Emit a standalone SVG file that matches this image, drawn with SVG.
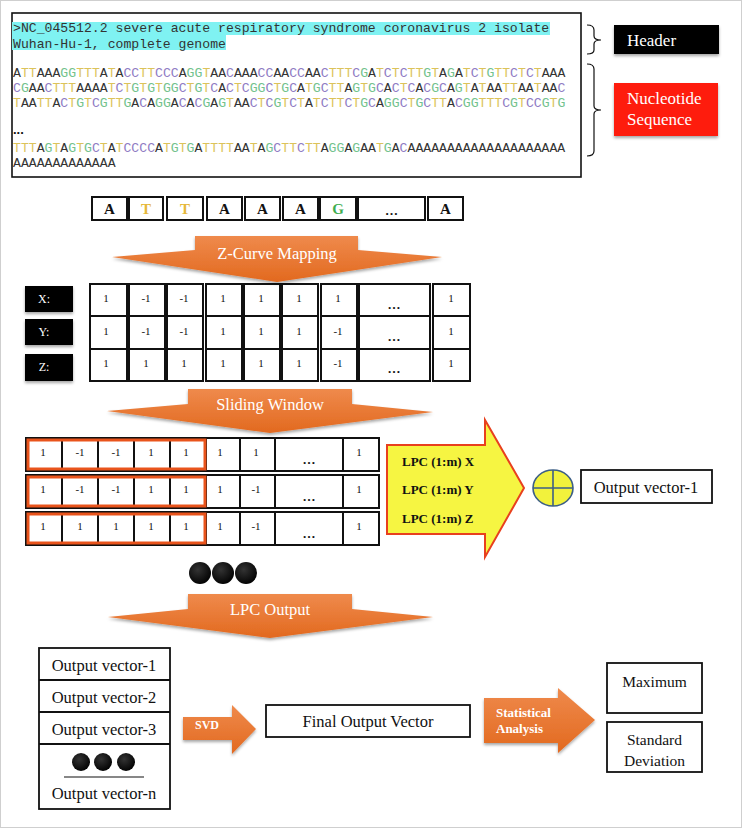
<svg xmlns="http://www.w3.org/2000/svg" width="742" height="828" viewBox="0 0 742 828">
<defs>
<style>
.mono{font-family:"Liberation Mono","DejaVu Sans Mono",monospace;font-size:13.15px;fill:#333}
.t{fill:#dcc35a}.c{fill:#8f7cc4}.g{fill:#72c28c}
.serif{font-family:"Liberation Serif","Times New Roman",serif}
.cell{fill:#fff;stroke:#111;stroke-width:2}
.num{font-family:"Liberation Serif",serif;font-size:11px;text-anchor:middle;fill:#111}
.ell{font-family:"Liberation Serif",serif;font-size:13px;font-weight:bold;text-anchor:middle;fill:#111}
.wt{fill:#fff;font-family:"Liberation Serif",serif;font-size:16.5px;text-anchor:middle}
.orange{fill:url(#og);filter:url(#sh)}
.box{fill:#fff;stroke:#111;stroke-width:1.8}
.lbl{font-family:"Liberation Serif",serif;font-size:16.5px;text-anchor:middle;fill:#111}
.blk{fill:#000;filter:url(#sh)}
.nt{font-family:"Liberation Serif",serif;font-size:15px;font-weight:bold;text-anchor:middle}
.bw{font-family:"Liberation Serif",serif;font-weight:bold;fill:#fff;font-size:13px}
.lpc{font-family:"Liberation Serif",serif;font-weight:bold;fill:#111;font-size:13px}
.dot{fill:url(#dg)}
</style>
<linearGradient id="og" x1="0" y1="0" x2="0" y2="1">
<stop offset="0" stop-color="#ef8a4c"/>
<stop offset="1" stop-color="#e2691f"/>
</linearGradient>
<radialGradient id="dg" cx="0.4" cy="0.35" r="0.7">
<stop offset="0" stop-color="#333"/>
<stop offset="1" stop-color="#000"/>
</radialGradient>
<filter id="sh" x="-10%" y="-10%" width="130%" height="140%">
<feDropShadow dx="0" dy="2" stdDeviation="1.5" flood-color="#000" flood-opacity="0.35"/>
</filter>
</defs>
<rect x="0.5" y="0.5" width="741" height="827" fill="#fff" stroke="#cfcfcf"/>

<g id="fasta">
<rect x="12" y="13" width="569" height="164" fill="#fff" stroke="#111" stroke-width="1.6"/>
<rect x="12" y="22" width="538" height="13" fill="#7ff2f2"/>
<rect x="12" y="35" width="214" height="15" fill="#7ff2f2"/>
<text class="mono" x="13" y="32">&gt;NC_045512.2 severe acute respiratory syndrome coronavirus 2 isolate</text>
<text class="mono" x="13" y="48">Wuhan-Hu-1, complete genome</text>
<text class="mono" x="13" y="77">A<tspan class="t">TT</tspan>AAA<tspan class="g">GG</tspan><tspan class="t">TTT</tspan>A<tspan class="t">T</tspan>A<tspan class="c">CC</tspan><tspan class="t">TT</tspan><tspan class="c">CCC</tspan>A<tspan class="g">GG</tspan><tspan class="t">T</tspan>AA<tspan class="c">C</tspan>AAA<tspan class="c">CC</tspan>AA<tspan class="c">CC</tspan>AA<tspan class="c">C</tspan><tspan class="t">TTT</tspan><tspan class="c">C</tspan><tspan class="g">G</tspan>A<tspan class="t">T</tspan><tspan class="c">C</tspan><tspan class="t">T</tspan><tspan class="c">C</tspan><tspan class="t">TT</tspan><tspan class="g">G</tspan><tspan class="t">T</tspan>A<tspan class="g">G</tspan>A<tspan class="t">T</tspan><tspan class="c">C</tspan><tspan class="t">T</tspan><tspan class="g">G</tspan><tspan class="t">TT</tspan><tspan class="c">C</tspan><tspan class="t">T</tspan><tspan class="c">C</tspan><tspan class="t">T</tspan>AAA</text>
<text class="mono" x="13" y="92"><tspan class="c">C</tspan><tspan class="g">G</tspan>AA<tspan class="c">C</tspan><tspan class="t">TTT</tspan>AAAA<tspan class="t">T</tspan><tspan class="c">C</tspan><tspan class="t">T</tspan><tspan class="g">G</tspan><tspan class="t">T</tspan><tspan class="g">G</tspan><tspan class="t">T</tspan><tspan class="g">GG</tspan><tspan class="c">C</tspan><tspan class="t">T</tspan><tspan class="g">G</tspan><tspan class="t">T</tspan><tspan class="c">C</tspan>A<tspan class="c">C</tspan><tspan class="t">T</tspan><tspan class="c">C</tspan><tspan class="g">GG</tspan><tspan class="c">C</tspan><tspan class="t">T</tspan><tspan class="g">G</tspan><tspan class="c">C</tspan>A<tspan class="t">T</tspan><tspan class="g">G</tspan><tspan class="c">C</tspan><tspan class="t">TT</tspan>A<tspan class="g">G</tspan><tspan class="t">T</tspan><tspan class="g">G</tspan><tspan class="c">C</tspan>A<tspan class="c">C</tspan><tspan class="t">T</tspan><tspan class="c">C</tspan>A<tspan class="c">C</tspan><tspan class="g">G</tspan><tspan class="c">C</tspan>A<tspan class="g">G</tspan><tspan class="t">T</tspan>A<tspan class="t">T</tspan>AA<tspan class="t">TT</tspan>AA<tspan class="t">T</tspan>AA<tspan class="c">C</tspan></text>
<text class="mono" x="13" y="107"><tspan class="t">T</tspan>AA<tspan class="t">TT</tspan>A<tspan class="c">C</tspan><tspan class="t">T</tspan><tspan class="g">G</tspan><tspan class="t">T</tspan><tspan class="c">C</tspan><tspan class="g">G</tspan><tspan class="t">TT</tspan><tspan class="g">G</tspan>A<tspan class="c">C</tspan>A<tspan class="g">GG</tspan>A<tspan class="c">C</tspan>A<tspan class="c">C</tspan><tspan class="g">G</tspan>A<tspan class="g">G</tspan><tspan class="t">T</tspan>AA<tspan class="c">C</tspan><tspan class="t">T</tspan><tspan class="c">C</tspan><tspan class="g">G</tspan><tspan class="t">T</tspan><tspan class="c">C</tspan><tspan class="t">T</tspan>A<tspan class="t">T</tspan><tspan class="c">C</tspan><tspan class="t">TT</tspan><tspan class="c">C</tspan><tspan class="t">T</tspan><tspan class="g">G</tspan><tspan class="c">C</tspan>A<tspan class="g">GG</tspan><tspan class="c">C</tspan><tspan class="t">T</tspan><tspan class="g">G</tspan><tspan class="c">C</tspan><tspan class="t">TT</tspan>A<tspan class="c">C</tspan><tspan class="g">GG</tspan><tspan class="t">TTT</tspan><tspan class="c">C</tspan><tspan class="g">G</tspan><tspan class="t">T</tspan><tspan class="c">CC</tspan><tspan class="g">G</tspan><tspan class="t">T</tspan><tspan class="g">G</tspan></text>
<text x="13" y="134" style="font-family:'Liberation Sans',sans-serif;font-size:13px;font-weight:bold;fill:#111">...</text>
<text class="mono" x="13" y="152"><tspan class="t">TTT</tspan>A<tspan class="g">G</tspan><tspan class="t">T</tspan>A<tspan class="g">G</tspan><tspan class="t">T</tspan><tspan class="g">G</tspan><tspan class="c">C</tspan><tspan class="t">T</tspan>A<tspan class="t">T</tspan><tspan class="c">CCCC</tspan>A<tspan class="t">T</tspan><tspan class="g">G</tspan><tspan class="t">T</tspan><tspan class="g">G</tspan>A<tspan class="t">TTTT</tspan>AA<tspan class="t">T</tspan>A<tspan class="g">G</tspan><tspan class="c">C</tspan><tspan class="t">TT</tspan><tspan class="c">C</tspan><tspan class="t">TT</tspan>A<tspan class="g">GG</tspan>A<tspan class="g">G</tspan>AA<tspan class="t">T</tspan><tspan class="g">G</tspan>A<tspan class="c">C</tspan>AAAAAAAAAAAAAAAAAAAA</text>
<text class="mono" x="13" y="167">AAAAAAAAAAAAA</text>
</g>

<g id="header-label">
<path d="M587,25 Q594,25 594,30 L594,36 Q594,40 601,40 Q594,40 594,44 L594,50 Q594,54 587,54" fill="none" stroke="#111" stroke-width="1.2"/>
<rect x="614" y="25" width="105" height="29" class="blk"/>
<text x="627" y="46" class="serif" style="font-size:17px;fill:#fff">Header</text>
</g>

<g id="sequence-label">
<path d="M587,64 Q594,64 594,69 L594,106 Q594,110 601,110 Q594,110 594,114 L594,151 Q594,156 587,156" fill="none" stroke="#111" stroke-width="1.2"/>
<rect x="614" y="83" width="104" height="53" fill="#fe1c0c" filter="url(#sh)"/>
<text x="627" y="104" class="serif" style="font-size:17px;fill:#fff">Nucleotide</text>
<text x="627" y="125" class="serif" style="font-size:17px;fill:#fff">Sequence</text>
</g>

<g id="nucleotides">
<rect class="cell" x="92" y="197" width="35" height="23"/>
<rect class="cell" x="129" y="197" width="34" height="23"/>
<rect class="cell" x="167" y="197" width="36" height="23"/>
<rect class="cell" x="207" y="197" width="35" height="23"/>
<rect class="cell" x="245" y="197" width="35" height="23"/>
<rect class="cell" x="283" y="197" width="35" height="23"/>
<rect class="cell" x="320" y="197" width="36" height="23"/>
<rect class="cell" x="358" y="197" width="67" height="23"/>
<rect class="cell" x="428" y="197" width="35" height="23"/>
<text class="nt" x="109.5" y="214" fill="#111">A</text>
<text class="nt" x="146" y="214" fill="#e6b83a">T</text>
<text class="nt" x="185" y="214" fill="#e6b83a">T</text>
<text class="nt" x="224.5" y="214" fill="#111">A</text>
<text class="nt" x="262.5" y="214" fill="#111">A</text>
<text class="nt" x="300.5" y="214" fill="#111">A</text>
<text class="nt" x="338" y="214" fill="#3fae52">G</text>
<text class="ell" x="391.5" y="215">…</text>
<text class="nt" x="445.5" y="214" fill="#111">A</text>
</g>

<g id="zcurve-labels">
<rect x="25" y="286" width="48" height="26" class="blk"/>
<rect x="25" y="319" width="48" height="26" class="blk"/>
<rect x="25" y="354" width="48" height="27" class="blk"/>
<text x="44" y="303" class="serif" style="font-size:12px;fill:#fff;text-anchor:middle">X:</text>
<text x="44" y="336" class="serif" style="font-size:12px;fill:#fff;text-anchor:middle">Y:</text>
<text x="44" y="371" class="serif" style="font-size:12px;fill:#fff;text-anchor:middle">Z:</text>
</g>

<g id="zcurve-table">
<rect class="cell" x="90" y="284" width="37" height="32"/><rect class="cell" x="90" y="316" width="37" height="33"/><rect class="cell" x="90" y="349" width="37" height="32"/>
<rect class="cell" x="129" y="284" width="36" height="32"/><rect class="cell" x="129" y="316" width="36" height="33"/><rect class="cell" x="129" y="349" width="36" height="32"/>
<rect class="cell" x="167" y="284" width="36" height="32"/><rect class="cell" x="167" y="316" width="36" height="33"/><rect class="cell" x="167" y="349" width="36" height="32"/>
<rect class="cell" x="206" y="284" width="36" height="32"/><rect class="cell" x="206" y="316" width="36" height="33"/><rect class="cell" x="206" y="349" width="36" height="32"/>
<rect class="cell" x="244" y="284" width="36" height="32"/><rect class="cell" x="244" y="316" width="36" height="33"/><rect class="cell" x="244" y="349" width="36" height="32"/>
<rect class="cell" x="282" y="284" width="36" height="32"/><rect class="cell" x="282" y="316" width="36" height="33"/><rect class="cell" x="282" y="349" width="36" height="32"/>
<rect class="cell" x="321" y="284" width="36" height="32"/><rect class="cell" x="321" y="316" width="36" height="33"/><rect class="cell" x="321" y="349" width="36" height="32"/>
<rect class="cell" x="359" y="284" width="71" height="32"/><rect class="cell" x="359" y="316" width="71" height="33"/><rect class="cell" x="359" y="349" width="71" height="32"/>
<rect class="cell" x="433" y="284" width="37" height="32"/><rect class="cell" x="433" y="316" width="37" height="33"/><rect class="cell" x="433" y="349" width="37" height="32"/>
<text class="num" x="106" y="302">1</text><text class="num" x="146" y="302">-1</text><text class="num" x="184" y="302">-1</text><text class="num" x="223" y="302">1</text><text class="num" x="261" y="302">1</text><text class="num" x="299" y="302">1</text><text class="num" x="338" y="302">1</text><text class="ell" x="394" y="309">…</text><text class="num" x="451" y="302">1</text>
<text class="num" x="106" y="335">1</text><text class="num" x="146" y="335">-1</text><text class="num" x="184" y="335">-1</text><text class="num" x="223" y="335">1</text><text class="num" x="261" y="335">1</text><text class="num" x="299" y="335">1</text><text class="num" x="338" y="335">-1</text><text class="ell" x="394" y="341">…</text><text class="num" x="451" y="335">1</text>
<text class="num" x="106" y="367">1</text><text class="num" x="146" y="367">1</text><text class="num" x="184" y="367">1</text><text class="num" x="223" y="367">1</text><text class="num" x="261" y="367">1</text><text class="num" x="299" y="367">1</text><text class="num" x="338" y="367">-1</text><text class="ell" x="394" y="373">…</text><text class="num" x="451" y="367">1</text>
</g>

<g id="sliding-table">
<rect x="26" y="438" width="353" height="33" fill="#fff" stroke="#111" stroke-width="2"/>
<rect x="26" y="475" width="353" height="33" fill="#fff" stroke="#111" stroke-width="2"/>
<rect x="26" y="512" width="353" height="33" fill="#fff" stroke="#111" stroke-width="2"/>
<path d="M62,438V471M98,438V471M134,438V471M170,438V471M206,438V471M240,438V471M275,438V471M343,438V471M62,475V508M98,475V508M134,475V508M170,475V508M206,475V508M240,475V508M275,475V508M343,475V508M62,512V545M98,512V545M134,512V545M170,512V545M206,512V545M240,512V545M275,512V545M343,512V545" stroke="#111" stroke-width="2" fill="none"/>
<rect x="28" y="440" width="177" height="29" fill="none" stroke="#e9541c" stroke-width="3"/>
<rect x="28" y="477" width="177" height="29" fill="none" stroke="#e9541c" stroke-width="3"/>
<rect x="28" y="514" width="177" height="29" fill="none" stroke="#e9541c" stroke-width="3"/>
<text class="num" x="43" y="456">1</text><text class="num" x="80" y="456">-1</text><text class="num" x="116" y="456">-1</text><text class="num" x="151" y="456">1</text><text class="num" x="186" y="456">1</text><text class="num" x="220" y="456">1</text><text class="num" x="256" y="456">1</text><text class="ell" x="309" y="464">…</text><text class="num" x="359" y="456">1</text>
<text class="num" x="43" y="493">1</text><text class="num" x="80" y="493">-1</text><text class="num" x="116" y="493">-1</text><text class="num" x="151" y="493">1</text><text class="num" x="186" y="493">1</text><text class="num" x="220" y="493">1</text><text class="num" x="256" y="493">-1</text><text class="ell" x="309" y="501">…</text><text class="num" x="359" y="493">1</text>
<text class="num" x="43" y="530">1</text><text class="num" x="80" y="530">1</text><text class="num" x="116" y="530">1</text><text class="num" x="151" y="530">1</text><text class="num" x="186" y="530">1</text><text class="num" x="220" y="530">1</text><text class="num" x="256" y="530">-1</text><text class="ell" x="309" y="538">…</text><text class="num" x="359" y="530">1</text>
</g>

<g id="lpc-arrow">
<polygon points="387,445 485,445 485,420 524,488 485,557 485,534 387,534" fill="#f6f542" stroke="#e8401e" stroke-width="2"/>
<text class="lpc" x="402" y="466">LPC (1:m) X</text>
<text class="lpc" x="402" y="494">LPC (1:m) Y</text>
<text class="lpc" x="402" y="523">LPC (1:m) Z</text>
</g>

<g id="sum">
<ellipse cx="553" cy="488" rx="20" ry="18" fill="#f2f23c" stroke="#3d5f86" stroke-width="1.6"/>
<path d="M533,488H573M553,470V506" stroke="#3d5f86" stroke-width="1.6"/>
</g>

<g id="output-vector-1">
<rect class="box" x="581" y="470" width="131" height="33"/>
<text class="lbl" x="646" y="493">Output vector-1</text>
</g>

<g id="dots-top">
<circle class="dot" cx="200" cy="573" r="11"/>
<circle class="dot" cx="223" cy="573" r="11"/>
<circle class="dot" cx="246" cy="573" r="11"/>
</g>

<g id="output-stack">
<rect class="box" x="39" y="648" width="131" height="161"/>
<path d="M39,680H170M39,712H170M39,744H170" stroke="#111" stroke-width="1.8"/>
<path d="M64,777H144" stroke="#111" stroke-width="1.2"/>
<text class="lbl" x="104" y="671">Output vector-1</text>
<text class="lbl" x="104" y="703">Output vector-2</text>
<text class="lbl" x="104" y="735">Output vector-3</text>
<circle class="dot" cx="81" cy="762" r="9"/>
<circle class="dot" cx="103" cy="762" r="9"/>
<circle class="dot" cx="126" cy="762" r="9"/>
<text class="lbl" x="104" y="799">Output vector-n</text>
</g>

<g id="final-output">
<rect class="box" x="266" y="705" width="204" height="32"/>
<text class="lbl" x="368" y="727">Final Output Vector</text>
</g>

<g id="maximum">
<rect class="box" x="607" y="663" width="95" height="50"/>
<text class="lbl" x="654.5" y="687" style="font-size:15.5px">Maximum</text>
</g>

<g id="std-dev">
<rect class="box" x="607" y="722" width="95" height="50"/>
<text class="lbl" x="654.5" y="745" style="font-size:15.5px">Standard</text>
<text class="lbl" x="654.5" y="766" style="font-size:15.5px">Deviation</text>
</g>

<g id="connectors">
<polygon class="orange" points="195,236 358,236 358,250 442,257 277,282 112,257 195,250"/>
<text class="wt" x="277" y="259">Z-Curve Mapping</text>
<polygon class="orange" points="188,389 352,389 352,404 433,412 270,433 107,411 188,404"/>
<text class="wt" x="270" y="410">Sliding Window</text>
<polygon class="orange" points="188,594 352,594 352,609 433,617 270,638 108,617 188,609"/>
<text class="wt" x="270" y="615">LPC Output</text>
<polygon class="orange" points="183,717 232,717 232,705 256,729 232,754 232,740 183,740"/>
<text class="bw" x="195" y="729" style="font-size:12px">SVD</text>
<polygon class="orange" points="484,698 558,698 558,688 595,720 558,753 558,743 484,743"/>
<text class="bw" x="496" y="717">Statistical</text>
<text class="bw" x="496" y="733">Analysis</text>
</g>
</svg>
